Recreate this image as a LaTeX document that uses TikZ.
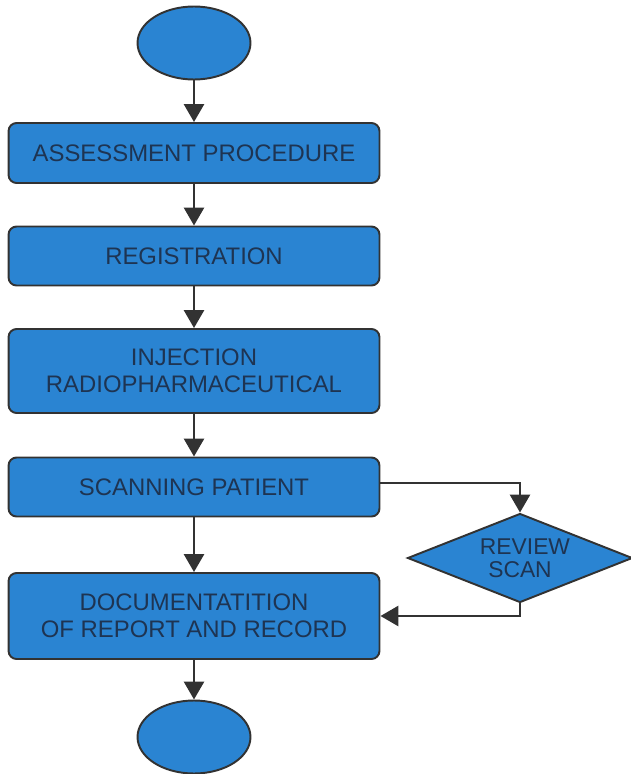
\documentclass[tikz,border=0pt]{standalone}
\usepackage{fontspec}
\setmainfont{Liberation Sans}
\usetikzlibrary{arrows.meta,shapes.geometric}
\definecolor{boxblue}{RGB}{42,132,210}
\definecolor{boxtext}{RGB}{30,52,82}
\definecolor{edgegray}{RGB}{50,50,50}
\begin{document}
\begin{tikzpicture}[x=0.02cm, y=-0.02cm]
                \tikzset{stepbox/.style={draw=edgegray, line width=1.1pt, fill=boxblue, rounded corners=0.16cm,
                minimum width=7.42cm, align=center, text=boxtext, inner sep=0pt,
                font=\fontsize{13.6}{15.5}\selectfont},
                terminal/.style={draw=edgegray, line width=1.1pt, fill=boxblue, ellipse, minimum width=2.26cm, minimum height=1.46cm},
                check/.style={draw=edgegray, line width=1.1pt, fill=boxblue, diamond, aspect=2.5, inner sep=0pt,
                minimum width=4.5cm, minimum height=1.78cm, align=center, text=boxtext,
                font=\fontsize{13}{13.2}\selectfont},
                flow/.style={draw=edgegray, line width=1.6pt, -{Triangle[length=0.36cm, width=0.4cm]}}}

                \useasboundingbox (0,0) rectangle (631,774);

                \node[terminal] (start) at (194,43) {};

                \node[stepbox, minimum height=1.2cm] (assess) at (194,153) {ASSESSMENT PROCEDURE};

                \node[stepbox, minimum height=1.18cm] (regist) at (194,256) {REGISTRATION};

                \node[stepbox, minimum height=1.68cm] (inject) at (194,371) {INJECTION\\RADIOPHARMACEUTICAL};

                \node[stepbox, minimum height=1.18cm] (scan) at (194,487) {SCANNING PATIENT};

                \node[check] (review) at (520,558) {\hspace*{0.2cm}REVIEW\\SCAN};

                \node[stepbox, minimum height=1.72cm] (doc) at (194,616) {DOCUMENTATITION\\OF REPORT AND RECORD};

                \node[terminal] (stop) at (194,737) {};

                \draw[flow] (start) -- (assess);
                \draw[flow] (assess) -- (regist);
                \draw[flow] (regist) -- (inject);
                \draw[flow] (inject) -- (scan);
                \draw[flow] (scan) -- (doc);
                \draw[flow] (doc) -- (stop);

                \draw[flow] ([yshift=0.08cm]scan.east) -| (review.north);
                \draw[flow] (review.south) |- (doc.east);
            \end{tikzpicture}
\end{document}
